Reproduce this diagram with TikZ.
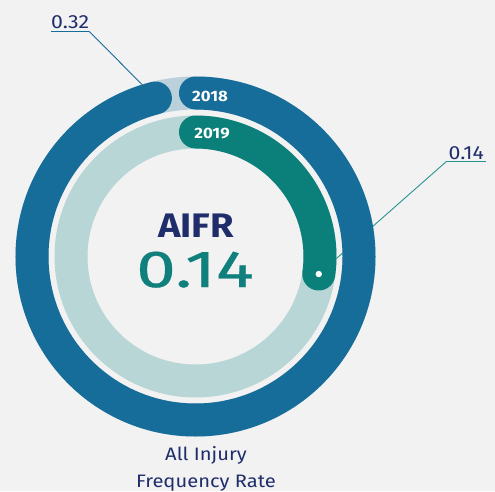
\documentclass[tikz,border=0pt]{standalone}
\usepackage{fontspec}
\usetikzlibrary{calc}
\setmainfont{Fira Sans}
\newfontfamily\widefont[FakeStretch=1.12]{Fira Sans}
\newfontfamily\widerfont[FakeStretch=1.37,FakeBold=0.6]{Fira Sans}
\definecolor{bgc}{HTML}{F2F2F2}
\definecolor{blueband}{HTML}{176D99}
\definecolor{bluebg}{HTML}{BAD1DB}
\definecolor{greenband}{HTML}{0B7F79}
\definecolor{greenbg}{HTML}{B8D6D6}
\definecolor{navy}{HTML}{1F2D6B}
\definecolor{tealtxt}{HTML}{0F807B}
\definecolor{leadteal}{HTML}{2A9490}
\begin{document}
\begin{tikzpicture}[x=1pt,y=1pt,
  band/.style={line width=33pt},
  capband/.style={line width=33pt,line cap=round},
  yearlbl/.style={text=white,font=\widefont\bfseries\fontsize{15}{15}\selectfont,inner sep=0pt},
  vallbl/.style={text=navy,font=\widefont\fontsize{19}{19}\selectfont,inner xsep=0pt,inner ysep=2pt,anchor=base west},
  botlbl/.style={text=navy,font=\widefont\fontsize{18}{18}\selectfont,anchor=base,inner sep=0pt}]
\fill[bgc] (0,0) rectangle (495,491);
\useasboundingbox (0,0) rectangle (495,491);
\coordinate (C) at (195.5,234.5);
\coordinate (e18) at ($(C)+(104.2:163.5)$);
\coordinate (dot) at ($(C)+(-8.1:124.5)$);
% labels
\node[vallbl] (l32) at (51,462) {0.32};
\node[vallbl,anchor=base east,inner xsep=2pt] (l14) at (486,332) {0.14};
\draw[blueband,line width=1.3pt] (l32.south west) -- (l32.south east);
\draw[leadteal,line width=1.8pt] (l14.south west) -- (l14.south east);
\draw[blueband,line width=0.9pt] (l32.south east) -- (e18);
\draw[leadteal,line width=0.9pt] (l14.south west) -- (dot);
% rings
\draw[bluebg,band] (C) circle[radius=163.5];
\draw[blueband,capband] ($(C)+(90:163.5)$) arc[start angle=90,end angle=-255.8,radius=163.5];
\draw[greenbg,band] (C) circle[radius=124.5];
\draw[greenband,capband] ($(C)+(90:124.5)$) arc[start angle=90,end angle=-8.1,radius=124.5];
\fill[white] (dot) circle[radius=3.2];
\node[yearlbl] (y18) at (210,395) {2018};
\node[yearlbl] (y19) at (212,357) {2019};
% centre
\node[text=navy,font=\widefont\bfseries\fontsize{34}{34}\selectfont,anchor=base,inner sep=0pt] (aifr) at (196,254) {AIFR};
\node[text=tealtxt,font=\widerfont\fontsize{52}{52}\selectfont,anchor=base,inner sep=0pt] (val) at (195,204) {0.14};
\node[botlbl] (b1) at (206,31) {All Injury};
\node[botlbl] (b2) at (206,4) {Frequency Rate};
\end{tikzpicture}
\end{document}
